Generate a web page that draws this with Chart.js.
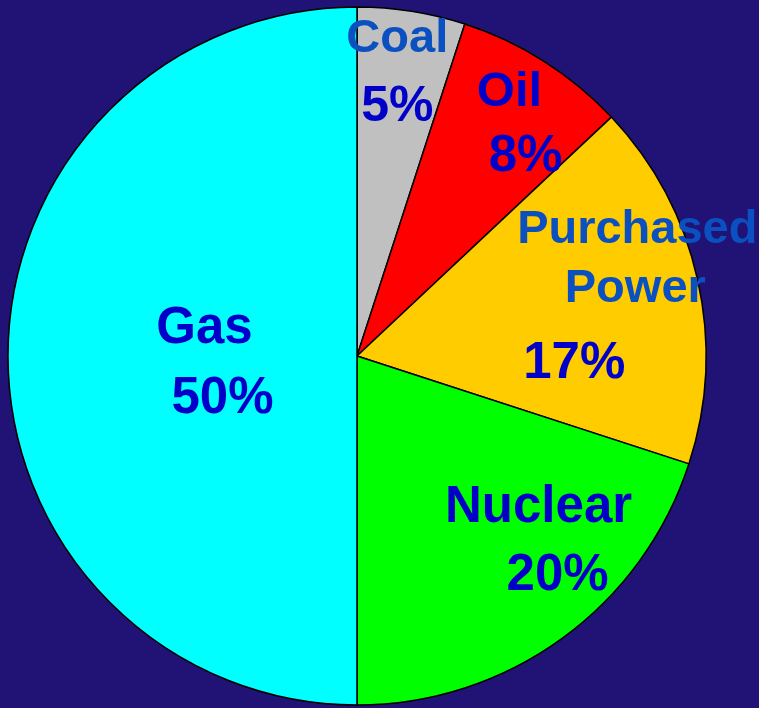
<!DOCTYPE html>
<html>
<head>
<meta charset="utf-8">
<script src="https://cdn.jsdelivr.net/npm/chart.js@4"></script>
<style>
  html, body { margin: 0; padding: 0; background: #211275; }
  #wrap { width: 759px; height: 708px; position: relative; }
</style>
</head>
<body>
<div id="wrap"><canvas id="pieChart"></canvas></div>
<script>
// clockwise from 12 o'clock
const categories = ['Coal', 'Oil', 'Purchased Power', 'Nuclear', 'Gas'];
const shares = [5, 8, 17, 20, 50];
const sliceColors = ['#c0c0c0', '#ff0000', '#ffcc00', '#00ff00', '#00ffff'];

// label lines per slice: [text, colour, font px, dx, dy] offsets from the slice centroid
const LIGHT = '#0a50c0', DARK = '#0000c8';
const labelLines = [
  [['Coal', LIGHT, 47, 13, -132], ['5%', DARK, 50, 13, -63]],
  [['Oil', DARK, 49, 59, -103], ['8%', DARK, 51, 75, -38]],
  [['Purchased', LIGHT, 47, 110, -75], ['Power', LIGHT, 47, 108, -16], ['17%', DARK, 51, 47, 60]],
  [['Nuclear', DARK, 51, 79, 25], ['20%', DARK, 51, 98, 93]],
  [['Gas', DARK, 51, 22, -13], ['50%', DARK, 51, 40, 57]]
];

const sliceLabels = {
  id: 'sliceLabels',
  afterDatasetsDraw(chart) {
    const ctx = chart.ctx;
    const arcs = chart.getDatasetMeta(0).data;
    ctx.save();
    ctx.textAlign = 'center';
    ctx.textBaseline = 'alphabetic';
    arcs.forEach((arc, i) => {
      const c = arc.tooltipPosition();
      labelLines[i].forEach(([txt, col, size, dx, dy]) => {
        ctx.font = `bold ${size}px "Liberation Sans", Arial, sans-serif`;
        ctx.fillStyle = col;
        ctx.fillText(txt, c.x + dx, c.y + dy);
      });
    });
    ctx.restore();
  }
};

new Chart(document.getElementById('pieChart'), {
  type: 'pie',
  data: {
    labels: categories,
    datasets: [{
      data: shares,
      backgroundColor: sliceColors,
      borderColor: '#000000',
      borderWidth: 1.5,
      radius: 349
    }]
  },
  options: {
    responsive: true,
    maintainAspectRatio: false,
    animation: false,
    layout: { padding: { top: 7, bottom: 3, left: 8, right: 53 } },
    plugins: {
      legend: { display: false },
      tooltip: { enabled: false }
    }
  },
  plugins: [sliceLabels]
});
</script>
</body>
</html>
